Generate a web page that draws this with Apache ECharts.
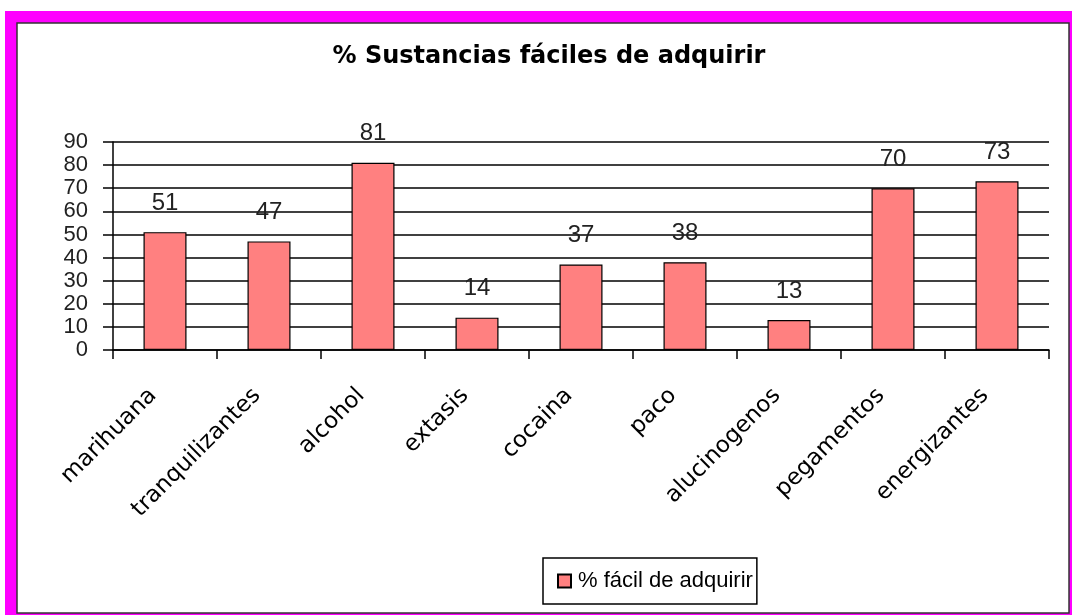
<!DOCTYPE html>
<html>
<head>
<meta charset="utf-8">
<script src="https://cdn.jsdelivr.net/npm/echarts@6/dist/echarts.min.js"></script>
<style>
  html, body { margin: 0; padding: 0; background: #fff; }
  #chart { width: 1072px; height: 615px; }
</style>
</head>
<body>
<div id="chart"></div>
<script>
  // datos
  const categories = ['marihuana', 'tranquilizantes', 'alcohol', 'extasis', 'cocaina',
    'paco', 'alucinogenos', 'pegamentos', 'energizantes'];
  const values = [51, 47, 81, 14, 37, 38, 13, 70, 73];
  const seriesName = '% fácil de adquirir';
  const titleText = '% Sustancias fáciles de adquirir';

  let chart = echarts.init(document.getElementById('chart'));
  chart.setOption({
    animation: false,
    backgroundColor: '#fff',
    graphic: [
      // marco magenta y borde interior
      { type: 'rect', z: -10, shape: { x: 5, y: 11, width: 1067, height: 604 },
        style: { fill: '#ff00ff' } },
      { type: 'rect', z: -9, shape: { x: 17, y: 23, width: 1052, height: 590 },
        style: { fill: '#fff', stroke: '#333', lineWidth: 1.5 } }
    ],
    title: {
      text: titleText,
      left: 544,
      textAlign: 'center',
      top: 40,
      textStyle: {
        fontFamily: 'DejaVu Sans',
        fontWeight: 'bold',
        fontSize: 24,
        color: '#000'
      }
    },
    legend: {
      left: 543,
      top: 558,
      padding: [12, 4, 12, 14],
      borderColor: '#000',
      borderWidth: 1.5,
      itemWidth: 13,
      itemHeight: 13,
      icon: 'rect',
      data: [seriesName],
      textStyle: {
        fontFamily: 'Liberation Sans',
        fontSize: 22,
        color: '#000',
        padding: [0, 0, 0, 2]
      }
    },
    grid: {
      left: 113,
      right: 23,
      top: 142,
      bottom: 265
    },
    xAxis: {
      type: 'category',
      data: categories,
      axisLine: { lineStyle: { color: '#000', width: 1.5 } },
      axisTick: { show: true, length: 9, alignWithLabel: false, lineStyle: { color: '#000', width: 1.5 } },
      axisLabel: {
        interval: 0,
        rotate: 45,
        margin: 30,
        fontFamily: 'DejaVu Sans',
        fontSize: 23,
        color: '#000',
        padding: [0, 17, 0, 0]
      }
    },
    yAxis: {
      type: 'value',
      min: 0,
      max: 90,
      interval: 10,
      axisLine: { show: true, lineStyle: { color: '#000', width: 1.5 } },
      axisTick: { show: true, length: 10, lineStyle: { color: '#000', width: 1.5 } },
      splitLine: { lineStyle: { color: '#000', width: 1.5 } },
      axisLabel: {
        margin: 25,
        showMinLabel: true,
        showMaxLabel: true,
        hideOverlap: false,
        fontFamily: 'Liberation Sans',
        fontSize: 22,
        lineHeight: 17,
        color: '#222'
      }
    },
    series: [
      {
        name: seriesName,
        type: 'bar',
        data: values,
        barWidth: 43,
        itemStyle: {
          color: '#ff8080',
          borderColor: '#000',
          borderWidth: 1.2
        },
        label: {
          show: true,
          position: 'top',
          distance: 17,
          fontFamily: 'Liberation Sans',
          fontSize: 24,
          color: '#222'
        }
      }
    ]
  });
</script>
</body>
</html>
